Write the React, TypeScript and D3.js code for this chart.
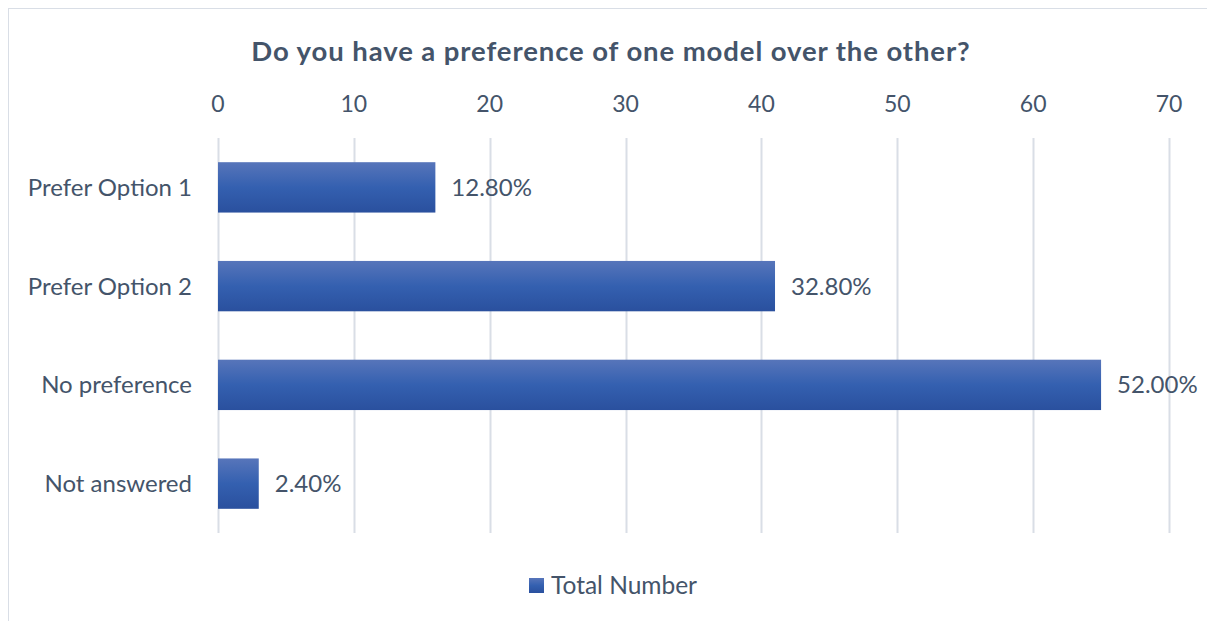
import React from "react";
import * as d3 from "d3";

const categories = ["Prefer Option 1", "Prefer Option 2", "No preference", "Not answered"];
const values = [16, 41, 65, 3];
const percentLabels = ["12.80%", "32.80%", "52.00%", "2.40%"];
const xTicks = [0, 10, 20, 30, 40, 50, 60, 70];
const title = "Do you have a preference of one model over the other?";
const seriesName = "Total Number";

const W = 1207;
const H = 621;
const FONT = "Lato, 'Open Sans', sans-serif";
const TEXT = "#44546A";

export default function App() {
  const x = d3.scaleLinear().domain([0, 70]).range([218, 1169]);
  const y = d3.scaleBand<string>().domain(categories).range([138, 533]).paddingInner(0.49).paddingOuter(0.245);

  return (
    <svg width={W} height={H} style={{ position: "absolute", left: 0, top: 0, display: "block", background: "#fff" }}>
      <defs>
        <linearGradient id="barGrad" x1="0" y1="0" x2="0" y2="1">
          <stop offset="0%" stopColor="#5775BA" />
          <stop offset="50%" stopColor="#3460B0" />
          <stop offset="100%" stopColor="#2A509E" />
        </linearGradient>
      </defs>
      <rect x={8.5} y={8.5} width={1220} height={640} fill="#fff" stroke="#D9DEE6" strokeWidth={1} />
      <text x={611} y={61} textAnchor="middle" fontFamily={FONT} fontWeight={700} fontSize={27.5} letterSpacing={0.9} fill={TEXT}>
        {title}
      </text>
      {xTicks.map((t) => (
        <g key={t}>
          <line x1={Math.round(x(t)) + 0.5} x2={Math.round(x(t)) + 0.5} y1={138} y2={533} stroke="#D9DEE6" strokeWidth={2} />
          <text x={x(t)} y={112} textAnchor="middle" fontFamily={FONT} fontSize={23} fill={TEXT}>
            {t}
          </text>
        </g>
      ))}
      {categories.map((c, i) => {
        const by = y(c)!;
        const bh = y.bandwidth();
        return (
          <g key={c}>
            <rect x={x(0)} y={by} width={x(values[i]) - x(0)} height={bh} fill="url(#barGrad)" />
            <text x={192} y={by + bh / 2} dy="0.35em" textAnchor="end" fontFamily={FONT} fontSize={24} fill={TEXT}>
              {c}
            </text>
            <text x={x(values[i]) + 16} y={by + bh / 2} dy="0.35em" textAnchor="start" fontFamily={FONT} fontSize={24} fill={TEXT}>
              {percentLabels[i]}
            </text>
          </g>
        );
      })}
      <rect x={529} y={578} width={15} height={15} fill="url(#barGrad)" />
      <text x={551} y={594} fontFamily={FONT} fontSize={24.5} fill={TEXT}>
        {seriesName}
      </text>
    </svg>
  );
}
